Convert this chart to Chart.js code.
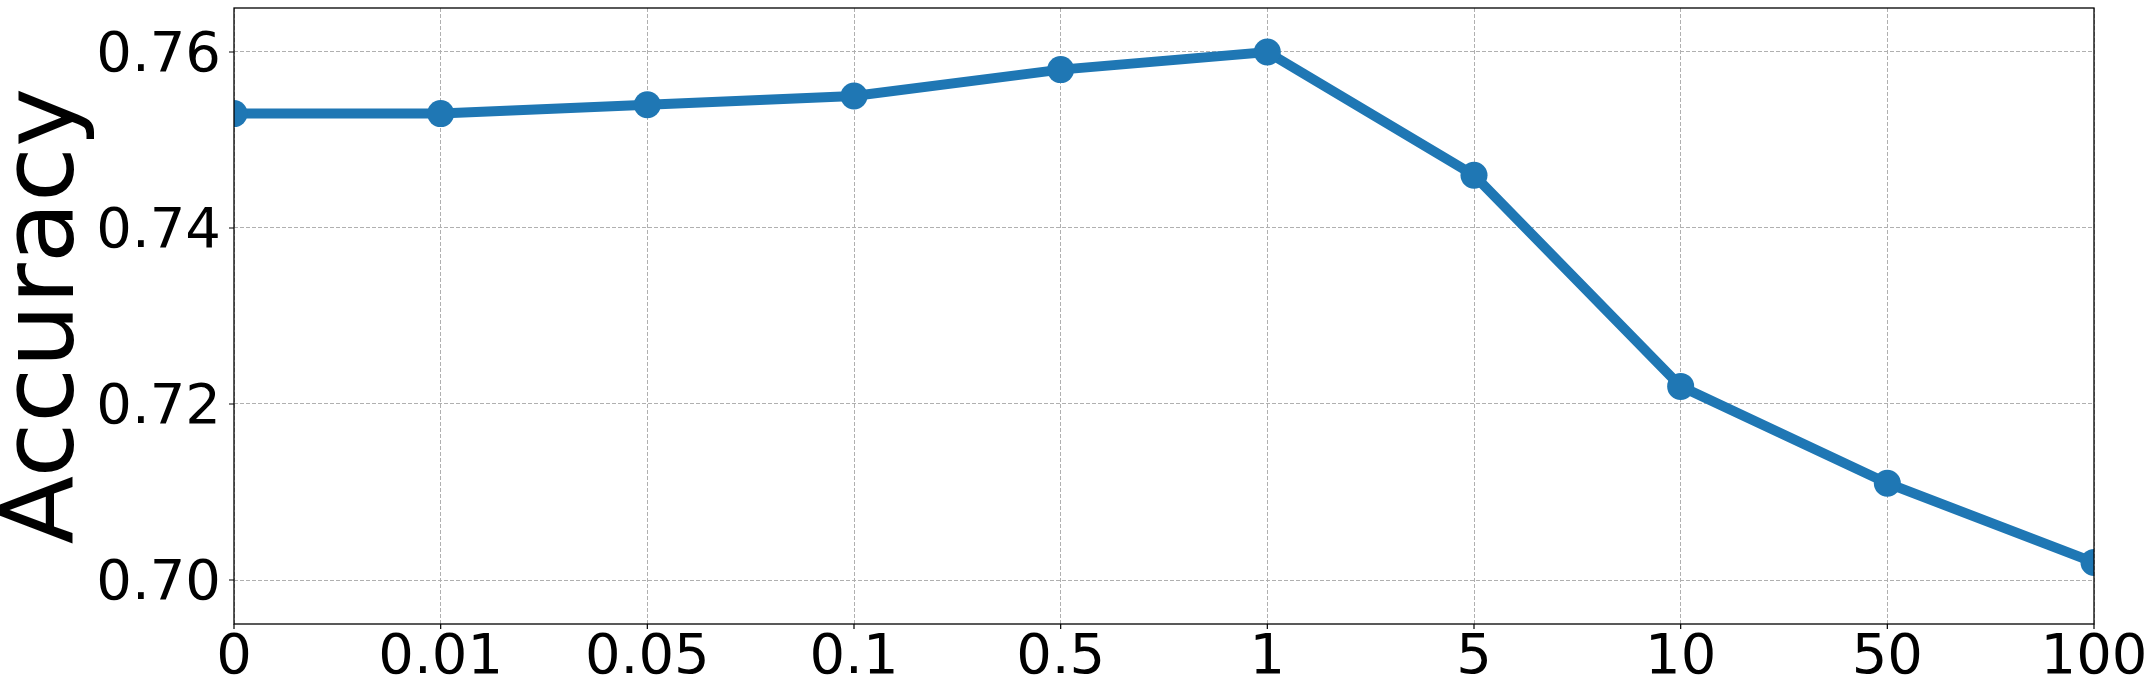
<!DOCTYPE html>
<html>
<head>
<meta charset="utf-8">
<style>
  html, body { margin: 0; padding: 0; background: #ffffff; }
  canvas { display: block; }
</style>
<script src="https://cdn.jsdelivr.net/npm/chart.js@4/dist/chart.umd.min.js"></script>
</head>
<body>
<canvas id="c" width="2147" height="684"></canvas>
<script>
// ---- data ----
const categories = ['0', '0.01', '0.05', '0.1', '0.5', '1', '5', '10', '50', '100'];
const accuracy   = [0.753, 0.753, 0.754, 0.755, 0.758, 0.760, 0.746, 0.722, 0.711, 0.702];
const yTicks     = [0.70, 0.72, 0.74, 0.76];
const yLabel     = 'Accuracy';

const FONT = "'DejaVu Sans', sans-serif";

const framePlugin = {
  id: 'frame',
  afterDraw(chart) {
    const { ctx, chartArea: a, scales } = chart;
    ctx.save();
    ctx.strokeStyle = '#000000';
    ctx.lineWidth = 1.3;
    ctx.strokeRect(a.left, a.top, a.right - a.left, a.bottom - a.top);
    ctx.lineWidth = 1.2;
    ctx.beginPath();
    const ys = scales.y;
    ys.ticks.forEach((t, i) => {
      const y = ys.getPixelForTick(i);
      ctx.moveTo(a.left, y);
      ctx.lineTo(a.left - 5, y);
    });
    const xs = scales.x;
    xs.ticks.forEach((t, i) => {
      const x = xs.getPixelForTick(i);
      ctx.moveTo(x, a.bottom);
      ctx.lineTo(x, a.bottom + 5);
    });
    ctx.stroke();
    ctx.restore();
  }
};

new Chart(document.getElementById('c'), {
  type: 'line',
  data: {
    labels: categories,
    datasets: [{
      data: accuracy,
      borderColor: '#1f77b4',
      backgroundColor: '#1f77b4',
      borderWidth: 10,
      pointRadius: 13.5,
      pointHoverRadius: 13.5,
      pointBorderWidth: 0,
      pointBackgroundColor: '#1f77b4',
      tension: 0,
      clip: 0
    }]
  },
  options: {
    responsive: false,
    animation: false,
    devicePixelRatio: 1,
    layout: { autoPadding: false, padding: { left: 0, right: 53, top: 8, bottom: 0 } },
    plugins: { legend: { display: false }, tooltip: { enabled: false } },
    scales: {
      x: {
        type: 'category',
        offset: false,
        afterFit(s) { s.height = 60; s.paddingLeft = 0; s.paddingRight = 0; },
        grid: { color: '#b0b0b0', lineWidth: 1, drawTicks: false },
        border: { display: false, dash: [4, 2] },
        ticks: {
          color: '#000000',
          font: { family: FONT, size: 56, lineHeight: 1 },
          padding: 6,
          maxRotation: 0,
          autoSkip: false
        }
      },
      y: {
        min: 0.695,
        max: 0.765,
        afterFit(s) { s.width = 234; s.paddingTop = 0; s.paddingBottom = 0; },
        afterBuildTicks(s) { s.ticks = yTicks.map(v => ({ value: v })); },
        grid: { color: '#b0b0b0', lineWidth: 1, drawTicks: false },
        border: { display: false, dash: [4, 2] },
        ticks: {
          color: '#000000',
          font: { family: FONT, size: 56, lineHeight: 1 },
          padding: 13,
          labelOffset: 4,
          callback: v => Number(v).toFixed(2)
        },
        title: {
          display: true,
          text: yLabel,
          color: '#000000',
          font: { family: FONT, size: 100, lineHeight: 0.94 },
          padding: 0
        }
      }
    }
  },
  plugins: [framePlugin]
});
</script>
</body>
</html>
